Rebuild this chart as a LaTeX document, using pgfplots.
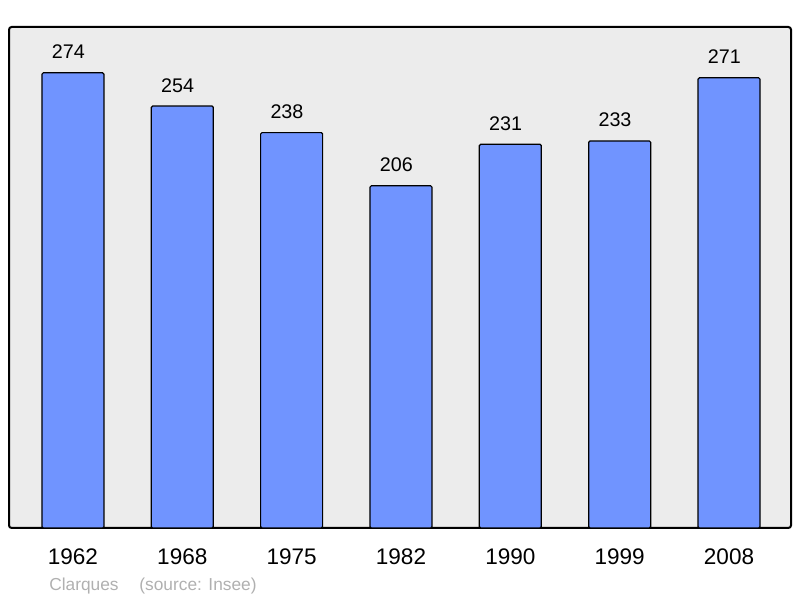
\documentclass[border=0pt]{standalone}
\usepackage{pgfplots}
\pgfplotsset{compat=1.18}
\usepackage{fontspec}
\setmainfont{Liberation Sans}
\definecolor{barblue}{RGB}{112,148,255}
\definecolor{bggray}{RGB}{236,236,236}
\definecolor{footgray}{RGB}{176,176,176}
\begin{document}
\begin{tikzpicture}[x=1pt,y=1pt]
\useasboundingbox (0,0) rectangle (600,448.5);
\begin{axis}[
  at={(6.75pt,52.5pt)}, anchor=south west,
  scale only axis, width=586.5pt, height=375.75pt,
  xmin=-0.585, xmax=6.567, ymin=0, ymax=301.6,
  axis background/.style={fill=bggray},
  axis line style={line width=1.5pt, black, rounded corners=2pt},
  ytick=\empty,
  xtick={0,1,2,3,4,5,6},
  xticklabels={1962,1968,1975,1982,1990,1999,2008},
  major tick length=0pt,
  xticklabel style={font=\fontsize{16.9}{18}\selectfont, anchor=base, inner sep=0pt, yshift=-27.5pt},
  /pgf/number format/assume math mode=true,
  ybar, bar width=46.5pt,
  nodes near coords,
  every node near coord/.style={font=\fontsize{14.8}{16}\selectfont, anchor=base, inner sep=0pt, yshift=10.5pt, xshift=-3.5pt, black},
  clip=false,
]
\addplot[fill=barblue, draw=black, line width=0.9pt, rounded corners=1pt] coordinates {
  (0,274) (1,254) (2,238) (3,206) (4,231) (5,233) (6,271)
};
\end{axis}
\node[anchor=base west, inner sep=0pt, text=footgray, font=\fontsize{13}{15}\selectfont] at (36.75,5.5) {Clarques\hspace{1.2em}(source: Insee)};
\end{tikzpicture}
\end{document}
